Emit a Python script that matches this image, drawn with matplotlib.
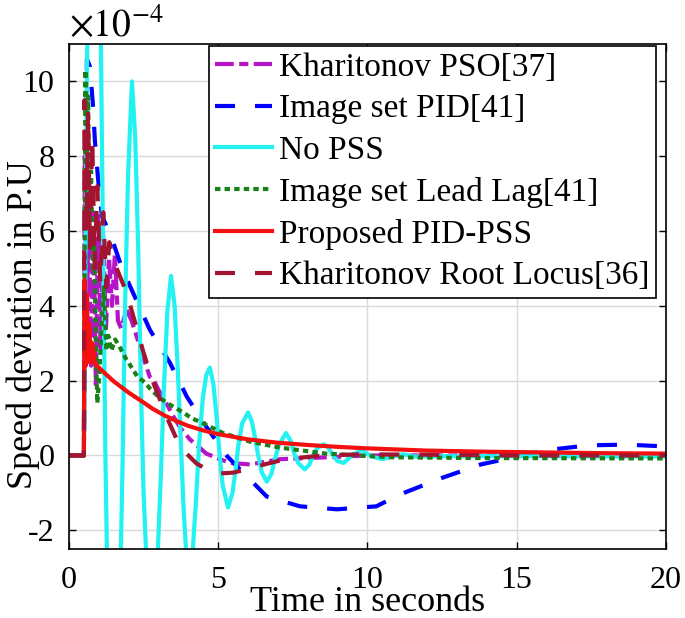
import matplotlib
matplotlib.use('Agg')
import matplotlib.pyplot as plt
from matplotlib.ticker import FuncFormatter

# ---------------------------------------------------------------
# data (speed deviation in units of 1e-4 p.u.)
# ---------------------------------------------------------------
SCALE = 1e-4

pso_t = [0, 0.5, 0.53, 0.6, 0.66, 0.74, 0.82, 0.9, 0.98, 1.06, 1.14, 1.24, 1.34, 1.44,
         1.54, 1.64, 1.75, 1.93, 2.1, 2.3, 2.5, 2.71, 2.85, 3.0, 3.2, 3.5, 3.75, 4.05,
         4.39, 4.6, 5.06, 5.4, 6.06, 6.5, 7.07, 8.6, 10, 20]
pso_v = [0, 0, 8.0, 3.5, 7.0, 2.4, 6.5, 1.9, 6.4, 2.8, 6.0, 3.4, 5.3, 4.0,
         5.4, 3.6, 3.4, 3.9, 3.6, 3.1, 2.6, 2.1, 2.0, 1.75, 1.49, 1.04, 0.72, 0.43,
         0.2, 0.05, -0.1, -0.2, -0.24, -0.18, -0.1, -0.05, 0.0, 0.0]

pid_t = [0, 0.5, 0.6, 0.7, 0.8, 0.87, 0.97, 1.1, 1.37, 1.78, 2.1, 2.71, 3.38, 3.95,
         4.6, 5.3, 5.8, 6.63, 7.74, 8.98, 10.3, 11.1, 12.5, 13.8, 14.9, 16.2, 17.4,
         18.7, 20]
pid_v = [0, 0, 10.6, 10.4, 9.4, 8.4, 7.44, 6.4, 5.95, 5.0, 4.43, 3.36, 2.48, 1.57,
         0.77, -0.02, -0.43, -1.1, -1.36, -1.44, -1.36, -1.04, -0.6, -0.24, -0.05,
         0.16, 0.27, 0.29, 0.24]

nopss_t = [0, 0.5, 0.6, 0.7, 0.85, 1.0, 1.07, 1.15, 1.22, 1.27, 1.35, 1.5, 1.62, 1.74,
           1.8, 1.88, 1.98, 2.11, 2.22, 2.32, 2.42, 2.5, 2.58, 2.68, 2.78, 2.88, 2.98,
           3.08, 3.18, 3.3, 3.42, 3.54, 3.64, 3.74, 3.84, 3.92, 4.04, 4.15, 4.25, 4.36,
           4.48, 4.6, 4.72, 4.84, 4.95, 5.05, 5.15, 5.33, 5.48, 5.58, 5.68, 5.8, 6.0,
           6.13, 6.24, 6.34, 6.46, 6.63, 6.78, 6.9, 7.02, 7.27, 7.42, 7.55, 7.68, 7.9,
           8.05, 8.18, 8.32, 8.55, 8.7, 8.85, 9.0, 9.2, 9.35, 9.5, 9.8, 10.15, 10.5,
           10.85, 11.2, 11.6, 12.5, 15, 20]
nopss_v = [0, 0, 10, 17, 21, 17, 11, 5, 0, -2.5, -5, -7, -5.5, -2.5,
           0, 4, 7.5, 10, 8.5, 5.5, 1.5, -1, -2.5, -3.8, -4.3, -3.8, -2.5,
           -0.5, 1.8, 3.9, 4.8, 4.0, 2.4, 0.5, -1.4, -2.5, -3.0, -2.5, -1.3, 0.3,
           1.5, 2.15, 2.35, 1.9, 1.0, 0, -0.8, -1.39, -1.0, -0.4, 0.3, 0.85, 1.15,
           0.9, 0.45, 0.0, -0.45, -0.7, -0.5, -0.1, 0.25, 0.6, 0.4, 0.05, -0.2, -0.37,
           -0.25, 0.0, 0.2, 0.3, 0.2, 0.0, -0.15, -0.2, -0.1, 0.02, 0.14, -0.03, -0.1,
           -0.02, 0.03, -0.03, -0.02, -0.02, -0.03]

ll_t = [0, 0.5, 0.55, 0.6, 0.64, 0.69, 0.74, 0.8, 0.85, 0.9, 0.95, 1.02, 1.1, 1.17,
        1.25, 1.32, 1.42, 1.55, 1.7, 1.9, 2.1, 2.3, 2.55, 2.7, 3.05, 3.4, 3.72, 4.15,
        4.39, 5.16, 6.06, 7.07, 8.6, 10.85, 14, 20]
ll_v = [0, 0, 10.3, 7.6, 9.6, 6.4, 7.6, 4.9, 5.6, 3.0, 1.4, 2.2, 3.6, 4.5,
        2.8, 3.2, 2.8, 3.1, 2.9, 2.6, 2.35, 2.1, 1.95, 1.8, 1.53, 1.35, 1.2, 0.98,
        0.9, 0.6, 0.37, 0.21, 0.05, -0.05, -0.07, -0.08]

prop_t = [0, 0.5, 0.52, 0.56, 0.6, 0.64, 0.68, 0.73, 0.78, 0.87, 1.2, 1.5, 2.0, 2.4,
          2.8, 3.2, 3.6, 4.0, 4.5, 5.0, 6.0, 7.0, 8.0, 9.0, 10, 12, 14, 16, 18, 20]
prop_v = [0, 0, 4.7, 2.4, 4.3, 2.5, 3.5, 2.5, 3.0, 2.45, 2.2, 1.98, 1.68, 1.47,
          1.25, 1.07, 0.92, 0.79, 0.67, 0.57, 0.43, 0.34, 0.28, 0.23, 0.19, 0.13,
          0.1, 0.08, 0.06, 0.05]

rl_t = [0, 0.5, 0.52, 0.58, 0.64, 0.7, 0.78, 0.86, 0.95, 1.05, 1.15, 1.25, 1.35, 1.47,
        1.6, 1.93, 2.2, 2.48, 2.75, 3.05, 3.3, 3.6, 3.9, 4.28, 4.6, 5.06, 5.5, 5.96,
        6.5, 7.0, 7.5, 8.5, 9.75, 12, 15, 20]
rl_v = [0, 0, 9.5, 6.0, 9.2, 5.5, 8.5, 5.0, 7.2, 4.6, 6.5, 4.5, 5.7, 5.3,
        5.0, 4.35, 3.6, 2.8, 2.1, 1.49, 0.98, 0.45, 0.08, -0.22, -0.36, -0.48, -0.46,
        -0.37, -0.25, -0.15, -0.08, 0.0, 0.03, 0.02, 0.0, 0.0]

labels = ['Kharitonov PSO[37]', 'Image set PID[41]', 'No PSS',
          'Image set Lead Lag[41]', 'Proposed PID-PSS', 'Kharitonov Root Locus[36]']

# ---------------------------------------------------------------
# plot
# ---------------------------------------------------------------
plt.rcParams['font.family'] = ['Liberation Serif', 'DejaVu Serif']
plt.rcParams['mathtext.fontset'] = 'stix'
plt.rcParams['axes.unicode_minus'] = False

fig = plt.figure(figsize=(6.85, 6.18), dpi=100)
ax = fig.add_axes([0.1007, 0.1117, 0.8713, 0.8171])

lw = 3
series = [
    (pso_t, pso_v, '#B515C8', (4.5, 1.3, 2.2, 1.3)),
    (pid_t, pid_v, '#0000FF', (4.8, 4.8)),
    (nopss_t, nopss_v, '#22F2F2', None),
    (ll_t, ll_v, '#1A801A', (1.3, 1.0)),
    (prop_t, prop_v, '#F21010', None),
    (rl_t, rl_v, '#A2142F', (4.8, 4.8)),
]
for (t, v, c, d), lab in zip(series, labels):
    line, = ax.plot(t, [x * SCALE for x in v], color=c, lw=lw, label=lab)
    if d is not None:
        line.set_dashes(d)

ax.set_xlim(0, 20)
ax.set_ylim(-2.5e-4, 11e-4)
ax.set_xticks([0, 5, 10, 15, 20])
ax.set_yticks([y * SCALE for y in range(-2, 11, 2)])
ax.yaxis.set_major_formatter(FuncFormatter(lambda y, _: f'{y / SCALE:.0f}'))
ax.grid(True, color='#DADADA', lw=1)
ax.set_axisbelow(True)
ax.tick_params(direction='in', top=True, right=True, length=5, width=1,
               labelsize=23)
ax.tick_params(axis='x', pad=12)
ax.tick_params(axis='y', pad=10.5)
for s in ax.spines.values():
    s.set_linewidth(1.2)

ax.text(0, 0.998, r'$\times10^{-4}$', transform=ax.transAxes, fontsize=27,
        ha='left', va='bottom')

ax.set_xlabel('Time in seconds', fontsize=26, labelpad=-6)
ax.set_ylabel('Speed deviation in P.U', fontsize=26)
ax.yaxis.set_label_coords(-0.049, 0.444)

leg = ax.legend(loc='upper right', bbox_to_anchor=(0.983, 0.997), borderaxespad=0,
                fontsize=24, handlelength=1.7, handletextpad=0.2, labelspacing=0.33,
                borderpad=0.2, fancybox=False, framealpha=1, edgecolor='black')
leg.get_frame().set_linewidth(1.2)

fig.savefig('out.png', dpi=100)
